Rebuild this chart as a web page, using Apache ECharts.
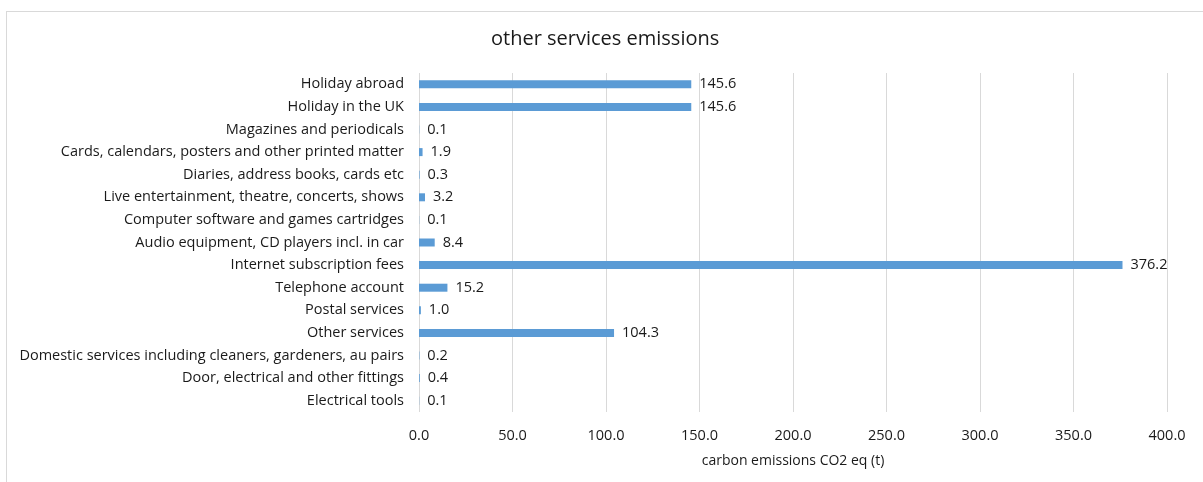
<!DOCTYPE html>
<html>
<head>
<meta charset="utf-8">
<script src="https://cdn.jsdelivr.net/npm/echarts@6/dist/echarts.min.js"></script>
<style>
    html, body { margin: 0; padding: 0; background: #fff; }
    #chart { width: 1203px; height: 482px; }
    .frame {
        position: absolute;
        left: 6px;
        top: 11px;
        width: 1300px;
        height: 600px;
        border-left: 1px solid #d9d9d9;
        border-top: 1px solid #d9d9d9;
        pointer-events: none;
    }
</style>
</head>
<body>
<div id="chart"></div>
<div class="frame"></div>
<script>
// categories, top to bottom as shown
const categories = [
    'Holiday abroad',
    'Holiday in the UK',
    'Magazines and periodicals',
    'Cards, calendars, posters and other printed matter',
    'Diaries, address books, cards etc',
    'Live entertainment, theatre, concerts, shows',
    'Computer software and games cartridges',
    'Audio equipment, CD players incl. in car',
    'Internet subscription fees',
    'Telephone account',
    'Postal services',
    'Other services',
    'Domestic services including cleaners, gardeners, au pairs',
    'Door, electrical and other fittings',
    'Electrical tools'
];
const emissions = [145.6, 145.6, 0.1, 1.9, 0.3, 3.2, 0.1, 8.4, 376.2, 15.2, 1.0, 104.3, 0.2, 0.4, 0.1];
const xTicks = [0, 400, 50]; // min, max, interval

const font = '"Open Sans", sans-serif';
let chart = echarts.init(document.getElementById('chart'));
let option = {
    animation: false,
    title: {
        text: 'other services emissions',
        left: 486,
        top: 24,
        textStyle: {
            fontFamily: font,
            fontSize: 20,
            fontWeight: 'normal',
            color: '#1a1a1a'
        }
    },
    grid: {
        left: 419,
        right: 36,
        top: 73,
        bottom: 70
    },
    xAxis: {
        type: 'value',
        min: xTicks[0],
        max: xTicks[1],
        interval: xTicks[2],
        name: 'carbon emissions CO2 eq (t)',
        nameLocation: 'middle',
        nameGap: 42,
        nameTextStyle: { fontFamily: font, fontSize: 14, color: '#1a1a1a' },
        axisLine: { show: false },
        axisTick: { show: false },
        axisLabel: {
            margin: 16,
            fontFamily: font,
            fontSize: 14.5,
            color: '#1a1a1a',
            formatter: function (v) { return v.toFixed(1); }
        },
        splitLine: { lineStyle: { color: '#d9d9d9', width: 1 } }
    },
    yAxis: {
        type: 'category',
        inverse: true,
        data: categories,
        axisLine: { show: false },
        axisTick: { show: false },
        axisLabel: {
            margin: 15,
            fontFamily: font,
            fontSize: 14.5,
            color: '#1a1a1a'
        }
    },
    series: [
        {
            type: 'bar',
            data: emissions,
            barWidth: 8,
            itemStyle: { color: '#5b9bd5' },
            label: {
                show: true,
                position: 'right',
                distance: 8,
                fontFamily: font,
                fontSize: 14.5,
                color: '#1a1a1a',
                formatter: function (p) { return p.value.toFixed(1); }
            }
        }
    ]
};
chart.setOption(option);
</script>
</body>
</html>
